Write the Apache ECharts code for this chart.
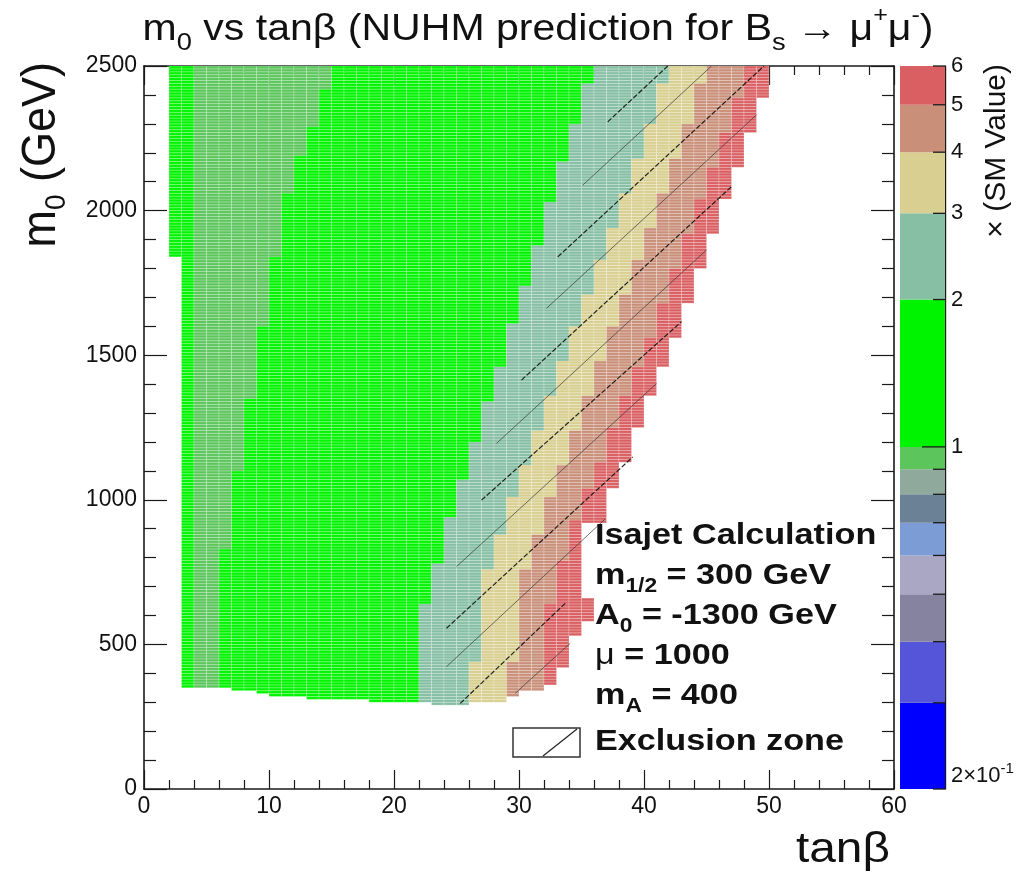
<!DOCTYPE html>
<html>
<head>
<meta charset="utf-8">
<title>m0 vs tanβ — NUHM prediction for Bs → μ+μ-</title>
<script src="https://cdn.jsdelivr.net/npm/echarts@6.0.0/dist/echarts.min.js"></script>
<style>
  html, body { margin: 0; padding: 0; background: #ffffff; }
  #chart { width: 1029px; height: 877px; }
</style>
</head>
<body>
<div id="chart"></div>
<script>
// ---------------- scan grid ----------------
// tanβ cells are one unit wide, m0 cells are 10 GeV tall, scan stops at 2500 GeV
const m0Top = 2500;
const m0Cell = 10;
const firstColumn = 2;

// lowest scanned m0 (GeV) of tanβ columns 2, 3, 4, ... 33
const columnBottom = [1840, 350, 350, 350, 350, 340, 340, 330, 320, 320, 320, 310, 310, 310, 310, 310,
                      300, 300, 300, 300, 300, 290, 290, 290, 300, 300, 300, 320, 340, 340, 360, 370];

// Band edges as [m0 from (GeV), tanβ where the next band starts];
// an entry holds from its m0 up to the m0 of the entry above it.
const mediumStart = 4;
const mediumEnd = [[2417,15],[2290,14],[2186,13],[2060,12],[1841,11],[1600,10],[1350,9],[1100,8],[830,7],[0,6]];
const greenEnd  = [[2440,36],[2300,35],[2175,34],[2030,33],[1880,32],[1740,31],[1610,30],[1460,29],[1345,28],
                   [1205,27],[1075,26],[940,25],[780,24],[640,23],[0,22]];
const tealEnd   = [[2437,42],[2304,41],[2177,40],[2060,39],[1945,38],[1830,37],[1715,36],[1600,35],[1480,34],
                   [1360,33],[1240,32],[1120,31],[1010,30],[880,29],[760,28],[440,27],[0,26]];
const khakiEnd  = [[2437,45],[2304,44],[2177,43],[2060,42],[1945,41],[1830,40],[1715,39],[1600,38],[1480,37],
                   [1360,36],[1240,35],[1120,34],[1010,33],[880,32],[760,31],[440,30],[0,29]];
const tanEnd    = [[2394,48],[2273,47],[2152,46],[2042,45],[1921,44],[1800,43],[1685,42],[1564,41],[1460,40],
                   [1356,39],[1253,38],[1126,37],[1045,36],[930,35],[790,34],[640,33],[0,32]];
const redEnd    = [[2394,50],[2273,49],[2152,48],[2042,47],[1921,46],[1800,45],[1685,44],[1564,43],[1460,42],
                   [1356,41],[1253,40],[1126,39],[1045,38],[920,37],[660,35],[584,36],[527,35],[423,34],[0,33]];

// ratio to the SM value used for each colour band
const greenValue = 1.5, mediumValue = 0.95, tealValue = 2.5, khakiValue = 3.5, tanValue = 4.5, redValue = 5.5;

// colour scale (× SM value), log axis from 0.2 to 6
const binLevels = [0.2, 0.3, 0.4, 0.5, 0.6, 0.7, 0.8, 0.9, 1, 2, 3, 4, 5, 6];
const binColors = ['#0000ff', '#5555d9', '#85839f', '#aaa7c5', '#7c9cd6', '#6b8196', '#90a99d',
                   '#5cc65c', '#00f400', '#86bfa3', '#d8cf90', '#c98f79', '#da5f62'];
const colorbarTicks = [0.2, 0.3, 0.4, 0.5, 0.6, 0.7, 0.8, 0.9, 1, 2, 3, 4, 5, 6];
const colorbarLabelValues = [1, 2, 3, 4, 5, 6, 0.2];

// exclusion-zone hatch segments, [tanβ, m0 (GeV)] at each end
const hatchFrom = [[37.1,2307],[35.1,2088],[33.1,1840],[32.2,1662],[30.2,1414],[28.2,1195],
                   [27.0,999],[25.0,769],[24.2,556],[24.2,423],[25.3,296],[29.7,331]];
const hatchTo   = [[41.9,2500],[45.4,2500],[49.6,2500],[49.0,2331],[47.0,2083],[45.0,1864],
                   [43.0,1616],[41.0,1402],[39.1,1148],[36.9,934],[33.7,642],[34.1,504]];

// ---------------- build the cells ----------------
function edgeAt(steps, m) {
  for (const [from, col] of steps) if (m >= from) return col;
  return steps[steps.length - 1][1];
}
const cells = [];
for (let c = firstColumn; c < 60; c++) {
  const k = c - firstColumn;
  const bottom = k < columnBottom.length ? columnBottom[k] : 0;
  for (let m = bottom; m < m0Top; m += m0Cell) {
    const mid = m + m0Cell / 2;
    if (c >= edgeAt(redEnd, mid)) continue;
    let v;
    if (c < mediumStart) v = greenValue;
    else if (c < edgeAt(mediumEnd, mid)) v = mediumValue;
    else if (c < edgeAt(greenEnd, mid)) v = greenValue;
    else if (c < edgeAt(tealEnd, mid)) v = tealValue;
    else if (c < edgeAt(khakiEnd, mid)) v = khakiValue;
    else if (c < edgeAt(tanEnd, mid)) v = tanValue;
    else v = redValue;
    cells.push([c, m, v]);
  }
}

const pieces = binColors.map((col, i) => (
  i === binColors.length - 1 ? { gte: binLevels[i], lte: binLevels[i + 1], color: col }
                             : { gte: binLevels[i], lt: binLevels[i + 1], color: col }));

const FONT = 'Liberation Sans, Arial, Helvetica, sans-serif';
const INK = '#1a1a1a';
const STRETCH = 1.14;

const chart = echarts.init(document.getElementById('chart'), null, { renderer: 'canvas' });

const mainAxisLine = { show: true, onZero: false, lineStyle: { color: INK, width: 1.6 } };
const plainNumber = v => String(v);

const option = {
  animation: false,
  backgroundColor: '#ffffff',
  grid: [
    { left: 144, top: 66, width: 750, height: 723 },
    { left: 900, top: 66, width: 45, height: 723 }
  ],
  xAxis: [
    { gridIndex: 0, type: 'value', min: 0, max: 60, interval: 10, position: 'bottom',
      axisLine: mainAxisLine,
      axisTick: { inside: true, length: 19, lineStyle: { color: INK, width: 1.2 } },
      minorTick: { show: true, splitNumber: 5, length: 9, lineStyle: { color: INK, width: 1.2 } },
      axisLabel: { fontFamily: FONT, fontSize: 23, color: '#111', margin: 6, formatter: plainNumber },
      splitLine: { show: false }, minorSplitLine: { show: false } },
    { gridIndex: 0, type: 'value', min: 0, max: 60, interval: 10, position: 'top',
      axisLine: mainAxisLine,
      axisTick: { inside: true, length: 19, lineStyle: { color: INK, width: 1.2 } },
      minorTick: { show: true, splitNumber: 5, length: 9, lineStyle: { color: INK, width: 1.2 } },
      axisLabel: { show: false }, splitLine: { show: false } },
    { gridIndex: 1, type: 'value', min: 0, max: 1, show: false }
  ],
  yAxis: [
    { gridIndex: 0, type: 'value', min: 0, max: 2500, interval: 500, position: 'left',
      axisLine: mainAxisLine,
      axisTick: { inside: true, length: 23, lineStyle: { color: INK, width: 1.2 } },
      minorTick: { show: true, splitNumber: 5, length: 12, lineStyle: { color: INK, width: 1.2 } },
      axisLabel: { fontFamily: FONT, fontSize: 23, color: '#111', margin: 7, formatter: plainNumber },
      splitLine: { show: false } },
    { gridIndex: 0, type: 'value', min: 0, max: 2500, interval: 500, position: 'right',
      axisLine: mainAxisLine,
      axisTick: { inside: true, length: 23, lineStyle: { color: INK, width: 1.2 } },
      minorTick: { show: true, splitNumber: 5, length: 12, lineStyle: { color: INK, width: 1.2 } },
      axisLabel: { show: false }, splitLine: { show: false } },
    { gridIndex: 1, type: 'log', logBase: 10, min: 0.2, max: 6, position: 'right',
      axisLine: { show: true, onZero: false, lineStyle: { color: INK, width: 1.4 } },
      axisTick: { show: false }, axisLabel: { show: false }, splitLine: { show: false } }
  ],
  visualMap: {
    type: 'piecewise', show: false, seriesIndex: 0, dimension: 2, pieces: pieces
  },
  series: [
    { // the scan cells
      type: 'custom', xAxisIndex: 0, yAxisIndex: 0, data: cells, z: 2, silent: true,
      renderItem(params, api) {
        const c = api.value(0), m = api.value(1);
        const p0 = api.coord([c, m + m0Cell]);
        const p1 = api.coord([c + 1, m]);
        return {
          type: 'rect',
          shape: { x: p0[0], y: p0[1], width: p1[0] - p0[0], height: p1[1] - p0[1] },
          style: { fill: api.visual('color'), stroke: 'rgba(255,255,255,0.38)', lineWidth: 0.6 }
        };
      }
    },
    { // exclusion-zone hatching
      type: 'lines', coordinateSystem: 'cartesian2d', xAxisIndex: 0, yAxisIndex: 0, z: 5, silent: true,
      data: hatchFrom.map((p, i) => ({
        coords: [p, hatchTo[i]],
        lineStyle: i % 2 === 0
          ? { color: '#111', width: 1.2, type: [5, 2], opacity: 0.9 }
          : { color: '#333', width: 0.9, type: 'solid', opacity: 0.75 }
      })),
      lineStyle: { color: '#111', width: 1 }
    },
    { // colour bar
      type: 'custom', xAxisIndex: 2, yAxisIndex: 2, z: 2, silent: true,
      data: binColors.map((col, i) => [0, binLevels[i], binLevels[i + 1], i]),
      renderItem(params, api) {
        const p0 = api.coord([0, api.value(2)]);
        const p1 = api.coord([1, api.value(1)]);
        return {
          type: 'rect',
          shape: { x: p0[0], y: p0[1], width: p1[0] - p0[0], height: p1[1] - p0[1] },
          style: { fill: binColors[api.value(3)] }
        };
      }
    },
    { // colour bar ticks
      type: 'custom', xAxisIndex: 2, yAxisIndex: 2, z: 4, silent: true,
      data: colorbarTicks.map(v => [1, v]),
      renderItem(params, api) {
        const v = api.value(1);
        const p = api.coord([1, v]);
        const len = v === 1 ? 23 : 12;
        return {
          type: 'line',
          shape: { x1: p[0] - len, y1: p[1], x2: p[0], y2: p[1] },
          style: { stroke: INK, lineWidth: 1.3 }
        };
      }
    },
    { // colour bar labels
      type: 'custom', xAxisIndex: 2, yAxisIndex: 2, z: 4, silent: true, clip: false,
      data: colorbarLabelValues.map(v => [1, v]),
      renderItem(params, api) {
        const v = api.value(1);
        const p = api.coord([1, v]);
        const sci = v < 1;
        return {
          type: 'text', x: p[0] + 6, y: sci ? p[1] + 2 : p[1],
          style: sci ? {
            text: '{b|' + (v * 10) + '×10}{e|-1}',
            align: 'left', verticalAlign: 'bottom', fill: '#111',
            rich: {
              b: { fontFamily: FONT, fontSize: 22, lineHeight: 30, fill: '#111' },
              e: { fontFamily: FONT, fontSize: 15, lineHeight: 15, verticalAlign: 'top', fill: '#111' }
            }
          } : {
            text: String(v), align: 'left', verticalAlign: 'middle',
            fontFamily: FONT, fontSize: 22, fill: '#111'
          }
        };
      }
    }
  ],
  graphic: [
    { // title
      type: 'text', x: 538, y: 30, scaleX: STRETCH, z: 10,
      style: {
        text: '{n|m}{s|0}{n| vs tan}{n|β}{n| (NUHM prediction for B}{s|s}{n| → μ}{p|+}{n|μ}{p|-}{n|)}',
        align: 'center', verticalAlign: 'middle',
        rich: {
          n: { fontFamily: FONT, fontSize: 36, lineHeight: 50, fill: '#111' },
          s: { fontFamily: FONT, fontSize: 24, lineHeight: 24, verticalAlign: 'bottom', fill: '#111' },
          p: { fontFamily: FONT, fontSize: 22, lineHeight: 22, verticalAlign: 'top', fill: '#111' }
        }
      }
    },
    { // y axis title
      type: 'text', x: 42, y: 62, rotation: Math.PI / 2, scaleY: 1.08, z: 10,
      style: {
        text: '{n|m}{s|0}{n| (GeV)}',
        align: 'right', verticalAlign: 'middle',
        rich: {
          n: { fontFamily: FONT, fontSize: 45, lineHeight: 56, fill: '#111' },
          s: { fontFamily: FONT, fontSize: 28, lineHeight: 28, verticalAlign: 'bottom', fill: '#111' }
        }
      }
    },
    { // x axis title
      type: 'text', x: 890, y: 850, scaleX: STRETCH, z: 10,
      style: { text: 'tanβ', align: 'right', verticalAlign: 'middle', fontFamily: FONT, fontSize: 42, fill: '#111' }
    },
    { // colour bar title
      type: 'text', x: 997, y: 64, rotation: Math.PI / 2, z: 10,
      style: { text: '× (SM Value)', align: 'right', verticalAlign: 'middle', fontFamily: FONT, fontSize: 30, fill: '#111' }
    },
    // scan parameters
    { type: 'text', x: 595, y: 536, scaleX: STRETCH, z: 10,
      style: { text: 'Isajet Calculation', align: 'left', verticalAlign: 'middle',
               fontFamily: FONT, fontWeight: 'bold', fontSize: 30, fill: '#111' } },
    { type: 'text', x: 595, y: 576, scaleX: STRETCH, z: 10,
      style: { text: '{n|m}{s|1/2}{n| = 300 GeV}', align: 'left', verticalAlign: 'middle',
               rich: { n: { fontFamily: FONT, fontWeight: 'bold', fontSize: 30, lineHeight: 40, fill: '#111' },
                       s: { fontFamily: FONT, fontWeight: 'bold', fontSize: 20, lineHeight: 20, verticalAlign: 'bottom', fill: '#111' } } } },
    { type: 'text', x: 595, y: 616, scaleX: STRETCH, z: 10,
      style: { text: '{n|A}{s|0}{n| = -1300 GeV}', align: 'left', verticalAlign: 'middle',
               rich: { n: { fontFamily: FONT, fontWeight: 'bold', fontSize: 30, lineHeight: 40, fill: '#111' },
                       s: { fontFamily: FONT, fontWeight: 'bold', fontSize: 20, lineHeight: 20, verticalAlign: 'bottom', fill: '#111' } } } },
    { type: 'text', x: 595, y: 656, scaleX: STRETCH, z: 10,
      style: { text: '{g|μ}{n| = 1000}', align: 'left', verticalAlign: 'middle',
               rich: { n: { fontFamily: FONT, fontWeight: 'bold', fontSize: 30, lineHeight: 40, fill: '#111' },
                       g: { fontFamily: FONT, fontSize: 30, lineHeight: 40, fill: '#111' } } } },
    { type: 'text', x: 595, y: 696, scaleX: STRETCH, z: 10,
      style: { text: '{n|m}{s|A}{n| = 400}', align: 'left', verticalAlign: 'middle',
               rich: { n: { fontFamily: FONT, fontWeight: 'bold', fontSize: 30, lineHeight: 40, fill: '#111' },
                       s: { fontFamily: FONT, fontWeight: 'bold', fontSize: 20, lineHeight: 20, verticalAlign: 'bottom', fill: '#111' } } } },
    // legend entry for the hatched exclusion zone
    { type: 'rect', z: 10, shape: { x: 513, y: 728, width: 67, height: 29 },
      style: { fill: '#ffffff', stroke: '#333', lineWidth: 1.5 } },
    { type: 'line', z: 11, shape: { x1: 543, y1: 756, x2: 577, y2: 729 },
      style: { stroke: '#222', lineWidth: 1.2 } },
    { type: 'text', x: 595, y: 742, scaleX: STRETCH, z: 10,
      style: { text: 'Exclusion zone', align: 'left', verticalAlign: 'middle',
               fontFamily: FONT, fontWeight: 'bold', fontSize: 30, fill: '#111' } }
  ]
};

chart.setOption(option);
</script>
</body>
</html>
